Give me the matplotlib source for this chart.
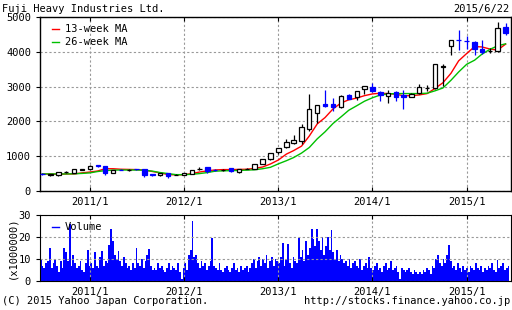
import matplotlib
matplotlib.use("Agg")
import matplotlib.pyplot as plt
import matplotlib.dates as mdates
from matplotlib.lines import Line2D
import numpy as np
import pandas as pd

# monthly candles, 2010/7 .. 2015/6
months = pd.date_range("2010-07-01", periods=60, freq="MS")
opens = [488, 455, 455, 540, 530, 615, 625, 735, 715, 530, 610, 595, 630, 620, 490, 455,
         505, 460, 470, 490, 635, 680, 608, 598, 660, 550, 635, 640, 775, 910,
         1130, 1255, 1370, 1430, 1770, 2230, 2495, 2495, 2400, 2760, 2690, 2920,
         2980, 2840, 2740, 2840, 2745, 2710, 2805, 2950, 2955, 3550, 4170, 4335,
         4320, 4280, 4085, 4025, 4010, 4710]
highs = [505, 490, 555, 570, 630, 640, 755, 760, 730, 610, 620, 625, 640, 630, 495, 530,
         510, 480, 530, 610, 680, 690, 620, 640, 665, 645, 660, 780, 920, 1085,
         1240, 1480, 1600, 1920, 2780, 2460, 2900, 2670, 2760, 2790, 2880, 3030,
         3090, 2880, 2900, 2860, 2900, 2830, 3070, 3050, 3645, 3645, 4335, 4640,
         4450, 4305, 4330, 4110, 4850, 4830]
lows = [470, 440, 445, 525, 520, 600, 615, 700, 470, 520, 590, 570, 600, 410, 440, 445,
        375, 450, 460, 480, 600, 530, 580, 570, 540, 520, 620, 630, 765, 880,
        1060, 1240, 1350, 1350, 1710, 1940, 2420, 2290, 2380, 2640, 2610, 2785,
        2850, 2575, 2517, 2575, 2360, 2690, 2790, 2880, 2940, 3030, 3910, 4050,
        4085, 3895, 3930, 3960, 4000, 4490]
closes = [483, 480, 545, 545, 620, 620, 715, 730, 525, 600, 605, 600, 625, 470, 450, 520,
          420, 465, 515, 600, 640, 565, 603, 603, 570, 630, 640, 770, 910, 1080,
          1230, 1410, 1460, 1830, 2345, 2460, 2430, 2400, 2720, 2650, 2880, 3030,
          2860, 2760, 2820, 2710, 2690, 2800, 2975, 2955, 3640, 3605, 4330, 4330,
          4315, 4070, 3990, 4030, 4690, 4550]

# moving averages read at each month
ma13 = [490, 490, 480, 488, 490, 520, 545, 575, 640, 640, 625, 620, 615, 600, 560, 520,
        470, 465, 468, 500, 545, 580, 605, 615, 615, 620, 625, 650, 690, 775,
        890, 1060, 1160, 1290, 1580, 1930, 2110, 2360, 2530, 2620, 2670, 2740,
        2790, 2810, 2800, 2780, 2740, 2740, 2760, 2800, 2950, 3110, 3380, 3740,
        3950, 4150, 4140, 4080, 4050, 4220]
ma26 = [490, 490, 490, 490, 495, 505, 520, 560, 585, 600, 603, 603, 603, 600, 570, 530,
        500, 470, 470, 480, 500, 530, 570, 580, 585, 590, 600, 610, 640, 680,
        780, 870, 960, 1090, 1250, 1500, 1700, 1940, 2130, 2320, 2450, 2580,
        2680, 2760, 2790, 2800, 2800, 2800, 2800, 2810, 2880, 2960, 3180, 3420,
        3640, 3760, 3930, 4070, 4170, 4230]

# weekly volume (x1000000)
volume = [10, 7, 6, 8, 9, 15, 6, 8, 10, 7, 4, 9, 6, 15,
          13, 9, 26, 7, 12, 8, 6, 7, 9, 5, 4, 8, 14,
          7, 8, 6, 13, 7, 6, 11, 13.5, 7, 9, 8, 16.5, 23.5,
          18, 12, 10, 13.5, 9, 7, 11, 8, 6, 7, 5, 8, 6,
          15, 8, 7, 10, 6, 9, 12, 14.5, 7, 5, 6, 5, 8,
          6, 7, 5, 4, 6, 8, 5, 7, 6, 5, 8, 4, 1,
          6, 8, 5, 12, 14, 27.5, 11, 12, 8, 6, 9, 7, 8,
          5, 7, 9, 19.5, 7, 6, 5, 8, 5, 4, 6, 7, 5,
          4, 6, 8, 5, 6, 4, 7, 5, 6, 7, 4, 6, 8,
          10, 6, 9, 11, 7, 10, 8, 12, 6, 9, 11, 7, 10,
          9, 8, 11, 17.5, 7, 10, 17, 8, 6, 11, 9, 8, 19.5,
          11, 14, 9, 18, 12, 15, 23.5, 19, 16, 23.5, 18, 14, 20,
          12, 16, 20, 14, 23, 13, 10, 14, 9, 12, 10, 8, 9,
          7, 10, 6, 8, 9, 7, 6, 10, 5, 7, 8, 6, 11,
          6, 5, 7, 8, 5, 6, 4, 7, 8, 5, 6, 9, 5,
          6, 7, 4, 1, 6, 5, 4, 5, 6, 4, 3, 5, 4,
          3, 4, 3, 5, 4, 6, 5, 3, 7, 6, 10, 12, 8,
          7, 10, 8, 12, 16.5, 9, 6, 7, 5, 8, 6, 4, 7,
          5, 6, 4, 7, 6, 5, 8, 6, 5, 7, 4, 6, 5,
          7, 6, 8, 5, 4, 9.5, 6, 7, 8, 5, 6, 7]
weeks = pd.date_range("2010-06-25", periods=len(volume), freq="7D")

year_ticks = pd.to_datetime(["2011-01-01", "2012-01-01", "2013-01-01", "2014-01-01", "2015-01-01"])
year_labels = ["2011/1", "2012/1", "2013/1", "2014/1", "2015/1"]

plt.rcParams['font.family'] = 'DejaVu Sans Mono'
plt.rcParams['font.size'] = 7.5

fig = plt.figure(figsize=(5.12, 3.10), dpi=100)
ax = fig.add_axes([40/512, 1-191/310, 471/512, 174/310])
axv = fig.add_axes([40/512, 1-281/310, 471/512, 66/310])

xmin = pd.Timestamp("2010-06-22")
xmax = pd.Timestamp("2015-06-22")

# candles
x = mdates.date2num(months)
o = np.array(opens); c = np.array(closes)
up = c >= o
for xi, oi, hi, lo, ci, u in zip(x, opens, highs, lows, closes, up):
    col = 'black' if u else '#0000ff'
    ax.vlines(xi, lo, hi, color=col, lw=0.9, zorder=3)
    ax.bar(xi, max(abs(ci - oi), 1), bottom=min(oi, ci), width=17,
           facecolor='white' if u else '#0000ff', edgecolor=col, lw=0.9, zorder=4)

ax.plot(months, ma13, color='#ff0000', lw=1, zorder=2, label='13-week MA')
ax.plot(months, ma26, color='#00c000', lw=1, zorder=2, label='26-week MA')

ax.set_xlim(xmin, xmax)
ax.set_ylim(0, 5000)
ax.set_yticks([0, 1000, 2000, 3000, 4000, 5000])
ax.set_xticks(year_ticks)
ax.set_xticklabels(year_labels)
ax.grid(True, color='#999999', ls=(0, (2, 2)), lw=0.8)
ax.tick_params(axis='y', direction='out', length=3, right=True)
ax.tick_params(axis='x', direction='in', length=3, top=True, pad=4)
for s in ax.spines.values():
    s.set_linewidth(1)
ax.legend(loc='upper left', frameon=False, handlelength=0.7, handletextpad=0.5,
          borderaxespad=0.3, labelspacing=0.3, fontsize=7.5, bbox_to_anchor=(0.01, 1))

# volume
axv.bar(weeks, volume, width=7, color='#0000ff', lw=0)
axv.set_xlim(xmin, xmax)
axv.set_ylim(0, 30)
axv.set_yticks([0, 10, 20, 30])
axv.set_xticks(year_ticks)
axv.set_xticklabels(year_labels)
axv.grid(True, color='#999999', ls=(0, (2, 2)), lw=0.8)
axv.tick_params(axis='y', direction='out', length=3, right=True)
axv.tick_params(axis='x', direction='in', length=3, top=True, pad=4)
axv.set_ylabel('(x1000000)', labelpad=1)
vol_handle = Line2D([], [], color='#0000ff', lw=1)
axv.legend([vol_handle], ['Volume'], loc='upper left', frameon=False, handlelength=0.7,
           handletextpad=0.5, borderaxespad=0.3, fontsize=7.5, bbox_to_anchor=(0.01, 1))

fig.text(2/512, 1-9/310, 'Fuji Heavy Industries Ltd.', ha='left', va='center', fontsize=7.5)
fig.text(510/512, 1-9/310, '2015/6/22', ha='right', va='center', fontsize=7.5)
fig.text(2/512, 1-301/310, '(C) 2015 Yahoo Japan Corporation.', ha='left', va='center', fontsize=7.5)
fig.text(510/512, 1-301/310, 'http://stocks.finance.yahoo.co.jp', ha='right', va='center', fontsize=7.5)

fig.savefig('out.png', dpi=100)
